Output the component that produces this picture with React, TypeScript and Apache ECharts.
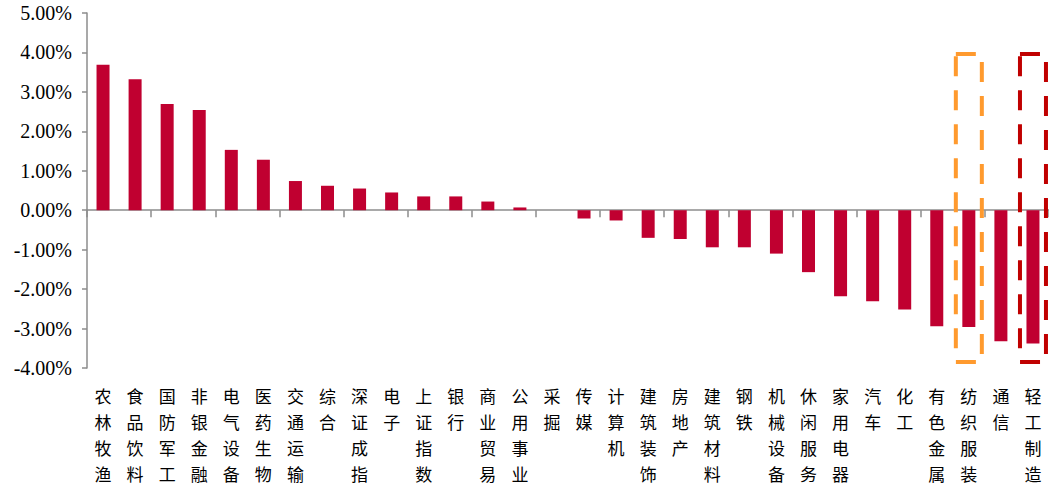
import React, { useEffect, useRef } from "react";
import * as echarts from "echarts";

const categories = [
  "农林牧渔", "食品饮料", "国防军工", "非银金融", "电气设备", "医药生物", "交通运输", "综合",
  "深证成指", "电子", "上证指数", "银行", "商业贸易", "公用事业", "采掘", "传媒", "计算机",
  "建筑装饰", "房地产", "建筑材料", "钢铁", "机械设备", "休闲服务", "家用电器", "汽车", "化工",
  "有色金属", "纺织服装", "通信", "轻工制造",
];

const values = [
  3.69, 3.32, 2.69, 2.54, 1.53, 1.28, 0.74, 0.62,
  0.55, 0.45, 0.35, 0.35, 0.22, 0.07, 0.0, -0.21, -0.26,
  -0.70, -0.73, -0.94, -0.94, -1.10, -1.57, -2.18, -2.31, -2.52,
  -2.94, -2.96, -3.32, -3.38,
];

const yTicks = { min: -4, max: 5, interval: 1 };

const highlights = [
  { name: "纺织服装", color: "#FF9A2E" },
  { name: "轻工制造", color: "#C00000" },
];
const boxRange = [3.96, -3.85];

export default function App() {
  const ref = useRef<HTMLDivElement>(null);

  useEffect(() => {
    if (!ref.current) return;
    const chart = echarts.init(ref.current, null, { renderer: "svg" });
    const axisColor = "#8c8c8c";
    chart.setOption({
      animation: false,
      grid: { left: 87, top: 13, width: 963, bottom: 117, containLabel: false },
      xAxis: [
        {
          type: "category",
          data: categories,
          axisLine: { onZero: true, lineStyle: { color: axisColor, width: 1.5 } },
          axisTick: { show: true, length: 7, lineStyle: { color: axisColor, width: 1.5 } },
          axisLabel: { show: false },
        },
        {
          type: "category",
          data: categories,
          position: "bottom",
          axisLine: { show: false },
          axisTick: { show: false },
          axisLabel: {
            show: true,
            interval: 0,
            margin: 14,
            color: "#000",
            fontSize: 17,
            lineHeight: 26,
            fontFamily: "'Noto Sans CJK SC', sans-serif",
            verticalAlign: "top",
            formatter: (v: string) => v.split("").join("\n"),
          },
        },
      ],
      yAxis: {
        type: "value",
        min: yTicks.min,
        max: yTicks.max,
        interval: yTicks.interval,
        splitLine: { show: false },
        axisLine: { show: true, lineStyle: { color: axisColor, width: 1.5 } },
        axisTick: { show: true, length: 5, lineStyle: { color: axisColor, width: 1.5 } },
        axisLabel: {
          color: "#000",
          fontSize: 20,
          margin: 15,
          fontFamily: "'Liberation Serif', 'Times New Roman', serif",
          formatter: (v: number) => v.toFixed(2) + "%",
        },
      },
      series: [
        {
          type: "bar",
          data: values,
          xAxisIndex: 0,
          barWidth: 13,
          itemStyle: { color: "#C00030" },
        },
      ],
    });

    const graphics = highlights.map((h) => {
      const idx = categories.indexOf(h.name);
      const [cx, yTop] = chart.convertToPixel({ xAxisIndex: 0, yAxisIndex: 0 }, [idx, boxRange[0]]) as number[];
      const [, yBot] = chart.convertToPixel({ xAxisIndex: 0, yAxisIndex: 0 }, [idx, boxRange[1]]) as number[];
      return {
        type: "rect",
        shape: { x: cx - 13, y: yTop, width: 26, height: yBot - yTop },
        style: { fill: "none", stroke: h.color, lineWidth: 4, lineDash: [20, 14] },
        z: 10,
      };
    });
    chart.setOption({ graphic: graphics });

    return () => chart.dispose();
  }, []);

  return (
    <div
      ref={ref}
      style={{ position: "absolute", left: 0, top: 0, width: 1049, height: 486, background: "#fff" }}
    />
  );
}
